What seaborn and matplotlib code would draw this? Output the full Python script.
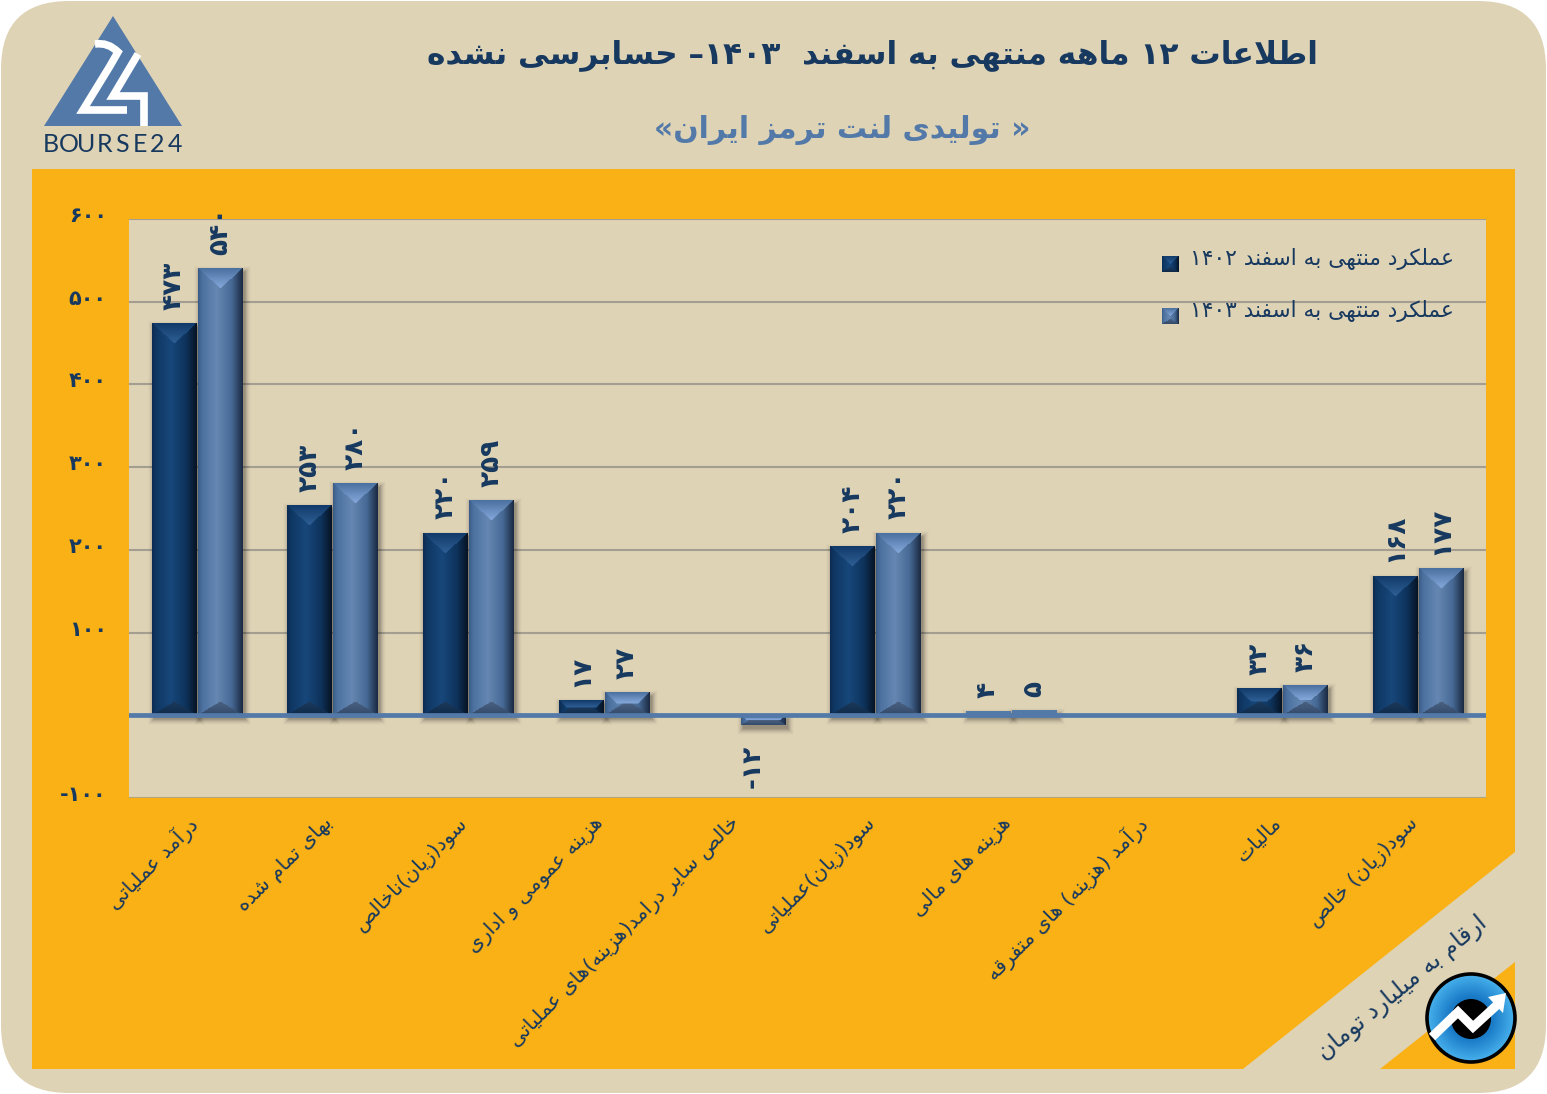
import numpy as np
import pandas as pd
import matplotlib
matplotlib.use("Agg")
import matplotlib.pyplot as plt
import seaborn as sns
from matplotlib.patches import Circle, FancyBboxPatch, PathPatch, Polygon
from matplotlib.path import Path
from matplotlib.colors import to_rgb
from matplotlib.transforms import ScaledTranslation

# data
categories = ["درآمد عملیاتی", "بهای تمام شده", "سود(زیان)ناخالص", "هزینه عمومی و اداری",
              "خالص سایر درامد(هزینه)های عملیاتی", "سود(زیان)عملیاتی", "هزینه های مالی",
              "درآمد (هزینه) های متفرقه", "مالیات", "سود(زیان) خالص"]
values_1402 = [473, 253, 220, 17, np.nan, 204, 4, np.nan, 32, 168]
values_1403 = [540, 280, 259, 27, -12, 220, 5, np.nan, 36, 177]
series_names = ["1402", "1403"]
legend_labels = ["عملکرد منتهی به اسفند ۱۴۰۲", "عملکرد منتهی به اسفند ۱۴۰۳"]
y_ticks = [-100, 0, 100, 200, 300, 400, 500, 600]
y_tick_labels = ["-۱۰۰", "", "۱۰۰", "۲۰۰", "۳۰۰", "۴۰۰", "۵۰۰", "۶۰۰"]
title = "اطلاعات ۱۲ ماهه منتهی به اسفند  ۱۴۰۳– حسابرسی نشده"
subtitle = "« تولیدی لنت ترمز ایران»"
unit_note = "ارقام به میلیارد تومان"

W, H = 1547, 1094
BEIGE = "#dfd3b6"
ORANGE = "#f9b116"
NAVY = "#17395f"
STEEL = "#5279a8"

# ---- no arabic shaping in matplotlib, so map letters to presentation forms by hand
FORMS = {
    "ا": (0xFE8D, 0xFE8E), "آ": (0xFE81, 0xFE82), "د": (0xFEA9, 0xFEAA), "ذ": (0xFEAB, 0xFEAC),
    "ر": (0xFEAD, 0xFEAE), "ز": (0xFEAF, 0xFEB0), "ژ": (0xFB8A, 0xFB8B), "و": (0xFEED, 0xFEEE),
    "ب": (0xFE8F, 0xFE90, 0xFE91, 0xFE92), "پ": (0xFB56, 0xFB57, 0xFB58, 0xFB59),
    "ت": (0xFE95, 0xFE96, 0xFE97, 0xFE98), "ج": (0xFE9D, 0xFE9E, 0xFE9F, 0xFEA0),
    "چ": (0xFB7A, 0xFB7B, 0xFB7C, 0xFB7D), "ح": (0xFEA1, 0xFEA2, 0xFEA3, 0xFEA4),
    "خ": (0xFEA5, 0xFEA6, 0xFEA7, 0xFEA8), "س": (0xFEB1, 0xFEB2, 0xFEB3, 0xFEB4),
    "ش": (0xFEB5, 0xFEB6, 0xFEB7, 0xFEB8), "ص": (0xFEB9, 0xFEBA, 0xFEBB, 0xFEBC),
    "ض": (0xFEBD, 0xFEBE, 0xFEBF, 0xFEC0), "ط": (0xFEC1, 0xFEC2, 0xFEC3, 0xFEC4),
    "ظ": (0xFEC5, 0xFEC6, 0xFEC7, 0xFEC8), "ع": (0xFEC9, 0xFECA, 0xFECB, 0xFECC),
    "غ": (0xFECD, 0xFECE, 0xFECF, 0xFED0), "ف": (0xFED1, 0xFED2, 0xFED3, 0xFED4),
    "ق": (0xFED5, 0xFED6, 0xFED7, 0xFED8), "ک": (0xFB8E, 0xFB8F, 0xFB90, 0xFB91),
    "گ": (0xFB92, 0xFB93, 0xFB94, 0xFB95), "ل": (0xFEDD, 0xFEDE, 0xFEDF, 0xFEE0),
    "م": (0xFEE1, 0xFEE2, 0xFEE3, 0xFEE4), "ن": (0xFEE5, 0xFEE6, 0xFEE7, 0xFEE8),
    "ه": (0xFEE9, 0xFEEA, 0xFEEB, 0xFEEC), "ی": (0xFBFC, 0xFBFD, 0xFBFE, 0xFBFF),
}
MIRROR = {"(": ")", ")": "(", "«": "»", "»": "«"}
DIGITS = "۰۱۲۳۴۵۶۷۸۹"


def shape(text):
    out = []
    i = 0
    while i < len(text):
        c = text[i]
        if c not in FORMS:
            out.append(MIRROR.get(c, c))
            i += 1
            continue
        prev = text[i - 1] if i > 0 else ""
        joined = prev in FORMS and len(FORMS[prev]) == 4
        nxt = text[i + 1] if i + 1 < len(text) else ""
        if c == "ل" and nxt == "ا":
            out.append(chr(0xFEFC if joined else 0xFEFB))
            i += 2
            continue
        forms = FORMS[c]
        if len(forms) == 2:
            out.append(chr(forms[1] if joined else forms[0]))
        elif joined:
            out.append(chr(forms[3] if nxt in FORMS else forms[1]))
        else:
            out.append(chr(forms[2] if nxt in FORMS else forms[0]))
        i += 1
    # visual order, digit runs stay left to right
    res, run = [], []
    for c in reversed(out):
        if c in DIGITS:
            run.insert(0, c)
        else:
            res.extend(run)
            run = []
            res.append(c)
    res.extend(run)
    return "".join(res)


def fa_num(v):
    s = str(int(v))
    return s.translate(str.maketrans("0123456789", DIGITS))


def ramp(stops, t):
    pos = [s[0] for s in stops]
    cols = np.array([to_rgb(s[1]) for s in stops])
    return np.stack([np.interp(t, pos, cols[:, k]) for k in range(3)], axis=-1)


DARK = dict(side=[(0, "#0c2c52"), (.1, "#0f3763"), (.42, "#17477b"), (.75, "#0e335c"), (1, "#061324")],
            top=("#113a69", "#2f6096"), bottom=("#1c3a5c", "#0e2a4a"))
LIGHT = dict(side=[(0, "#3a5a86"), (.1, "#4d72a0"), (.42, "#6587b2"), (.75, "#466a95"), (1, "#1a2840")],
             top=("#4a709f", "#86a9dc"), bottom=("#4b6283", "#33496a"))


def bevel(w, h, st):
    # bar face: dark sides, lit top wedge, shaded bottom wedge
    w, h = max(int(round(w)), 2), max(int(round(h)), 2)
    if h < 6:
        return np.ones((h, w, 3)) * np.array(to_rgb(STEEL))
    u, v = np.meshgrid((np.arange(w) + .5) / w, np.arange(h) + .5)
    img = ramp(st["side"], u)
    edge = np.minimum(u, 1 - u) * w
    top_d = np.minimum(h * .5, edge * .92)
    bot_d = np.minimum(h * .5, edge * .62)
    top = v < top_d
    t = np.clip(v / max(min(h * .5, w * .46), 1), 0, 1)
    img[top] = ramp([(0, st["top"][0]), (1, st["top"][1])], t)[top]
    bot = (h - v) < bot_d
    t = np.clip((h - v) / max(min(h * .5, w * .3), 1), 0, 1)
    img[bot] = ramp([(0, st["bottom"][1]), (1, st["bottom"][0])], t)[bot]
    return img


# ---- figure and background
sns.set_theme(style="white")
plt.rcParams["font.family"] = ["DejaVu Sans"]
fig = plt.figure(figsize=(W / 100, H / 100), dpi=100, facecolor="white")

bg = fig.add_axes([0, 0, 1, 1], zorder=0)
bg.set_xlim(0, W)
bg.set_ylim(H, 0)
bg.axis("off")
bg.add_patch(FancyBboxPatch((1, 1), W - 2, H - 2, boxstyle="round,pad=0,rounding_size=68",
                            fc=BEIGE, ec="none"))
bg.add_patch(Polygon([(32, 169), (1515, 169), (1515, 852), (1243, 1069), (32, 1069)], fc=ORANGE, ec="none"))
bg.add_patch(Polygon([(1515, 962), (1515, 1069), (1380, 1069)], fc=ORANGE, ec="none"))

# ---- chart
ax = fig.add_axes([129 / W, 1 - 798 / H, 1357 / W, 579 / H], zorder=1, facecolor=BEIGE)
df = pd.DataFrame({
    "item": categories * 2,
    "year": [series_names[0]] * len(categories) + [series_names[1]] * len(categories),
    "value": values_1402 + values_1403,
})
sns.barplot(data=df, x="item", y="value", hue="year", order=categories, hue_order=series_names,
            palette=["#123c6b", "#5b7fab"], width=0.68, gap=0.04, legend=False, ax=ax, zorder=3,
            linewidth=0, edgecolor="none")
ax.set_xlim(-0.5, 9.5)
ax.set_ylim(-100, 600)
ax.set_xlabel("")
ax.set_ylabel("")
for s in ax.spines.values():
    s.set_visible(False)
ax.set_yticks(y_ticks)
ax.set_yticklabels(y_tick_labels, fontsize=15, fontweight="bold", color=NAVY)
ax.tick_params(axis="y", length=0, pad=16)
up = ScaledTranslation(0, 0.05, fig.dpi_scale_trans)
for lab in ax.get_yticklabels():
    lab.set_transform(lab.get_transform() + up)
ax.yaxis.grid(True, color="#a39e8f", lw=1.5, zorder=1)
ax.set_axisbelow(True)
ax.axhline(0, color=STEEL, lw=3.4, zorder=5)
ax.axhline(-100, color="#b5a777", lw=2, zorder=2)
ax.set_xticks(range(len(categories)))
ax.set_xticklabels([shape(c) for c in categories], rotation=45, ha="right", va="top",
                   rotation_mode="anchor", fontsize=14.7, color=NAVY)
ax.tick_params(axis="x", length=0, pad=16)
shift = ScaledTranslation(-0.10, 0.07, fig.dpi_scale_trans)
for lab in ax.get_xticklabels():
    lab.set_transform(lab.get_transform() + shift)

px = 10 / 1357
py = 700 / 579
for cont, st in zip(ax.containers, [DARK, LIGHT]):
    for bar in cont:
        x0, w_, y0, h_ = bar.get_x(), bar.get_width(), bar.get_y(), bar.get_height()
        if not np.isfinite(h_) or h_ == 0:
            continue
        lo, hi = min(y0, y0 + h_), max(y0, y0 + h_)
        # soft shadow, mostly right and below
        sw, sh = int(w_ / px) + 14, int((hi - lo) / py) + 14
        yy, xx = np.meshgrid(np.arange(sh) + .5, np.arange(sw) + .5, indexing="ij")
        d = np.minimum.reduce([xx, sw - xx, yy, sh - yy])
        shadow = np.zeros((sh, sw, 4))
        shadow[..., 3] = np.clip(d / 7, 0, 1) ** 2 * .32
        ax.imshow(shadow, extent=(x0 - 5 * px, x0 + w_ + 9 * px, lo - 11 * py, hi + 3 * py),
                  aspect="auto", zorder=2.5, interpolation="bilinear")
        ax.imshow(bevel(w_ / px, (hi - lo) / py, st), extent=(x0, x0 + w_, lo, hi),
                  aspect="auto", zorder=4, interpolation="bilinear")
    anns = ax.bar_label(cont, labels=[fa_num(b.get_height()) if np.isfinite(b.get_height()) else "" for b in cont],
                        rotation=90, padding=10, fontsize=19, fontweight="bold", color=NAVY, zorder=6,
                        clip_on=False)
    for ann in anns:
        ann.set_annotation_clip(False)
        if ann.get_text().startswith("-"):
            ann.xyann = (-7, -14)
ax.set_xlim(-0.5, 9.5)
ax.set_ylim(-100, 600)

# ---- texts and decoration over everything
fg = fig.add_axes([0, 0, 1, 1], zorder=2, facecolor="none")
fg.set_xlim(0, W)
fg.set_ylim(H, 0)
fg.axis("off")

fg.text(872, 55, shape(title), ha="center", va="center", fontsize=22.5, fontweight="bold", color=NAVY)
fg.text(842, 130, shape(subtitle), ha="center", va="center", fontsize=21.5, fontweight="bold", color=STEEL)
fg.text(1402, 988, shape(unit_note), ha="center", va="center", rotation=39.5, rotation_mode="anchor",
        fontsize=17, color=NAVY)

for y_text, y_box, label, st in zip([259, 311], [256, 308], legend_labels, [DARK, LIGHT]):
    fg.imshow(bevel(17, 16, st), extent=(1162, 1179, y_box + 16, y_box), aspect="auto", zorder=3)
    fg.text(1190, y_text, shape(label), ha="left", va="center", fontsize=15.7, color=NAVY)

# logo
fg.add_patch(Polygon([(113, 16), (44, 126), (182, 126)], fc=STEEL, ec="none"))
two = Path([(95, 44), (108, 42), (118, 52), (110, 66), (83, 110), (127, 110)],
           [Path.MOVETO, Path.CURVE3, Path.CURVE3, Path.LINETO, Path.LINETO, Path.LINETO])
fg.add_patch(PathPatch(two, fc="none", ec="white", lw=5.5, joinstyle="miter", capstyle="butt"))
four = Path([(138, 54), (113, 96), (144, 96), (144, 126)], [Path.MOVETO, Path.LINETO, Path.LINETO, Path.LINETO])
fg.add_patch(PathPatch(four, fc="none", ec="white", lw=5.5, joinstyle="miter", capstyle="butt"))
for i, ch in enumerate("BOURSE24"):
    fg.text(51 + i * 17.7, 144, ch, ha="center", va="center", fontsize=18, family="Lato", color=NAVY)

# round badge
yy, xx = np.mgrid[-1:1:120j, -1:1:120j]
rr = np.hypot(xx, yy)
grad = ramp([(0, "#0c5aa0"), (.5, "#1b7cc8"), (1, "#4ab4ee")], np.clip(rr, 0, 1))
badge = fg.imshow(grad, extent=(1426, 1516, 1063, 973), aspect="auto", zorder=3, interpolation="bilinear")
badge.set_clip_path(Circle((1471, 1018), 45, transform=fg.transData))
fg.add_patch(Circle((1471, 1018), 44, fc="none", ec="black", lw=2.6, zorder=4))
fg.add_patch(Circle((1471, 1019), 20, fc="black", ec="none", zorder=4))
fg.plot([1432, 1458, 1473, 1497], [1037, 1012, 1027, 1005], color="white", lw=6.5,
        solid_joinstyle="miter", solid_capstyle="butt", zorder=5)
fg.add_patch(Polygon([(1488, 997), (1506, 993), (1503, 1013)], fc="white", ec="none", zorder=5))
fg.set_xlim(0, W)
fg.set_ylim(H, 0)

fig.savefig("out.png", dpi=100, facecolor=fig.get_facecolor())
